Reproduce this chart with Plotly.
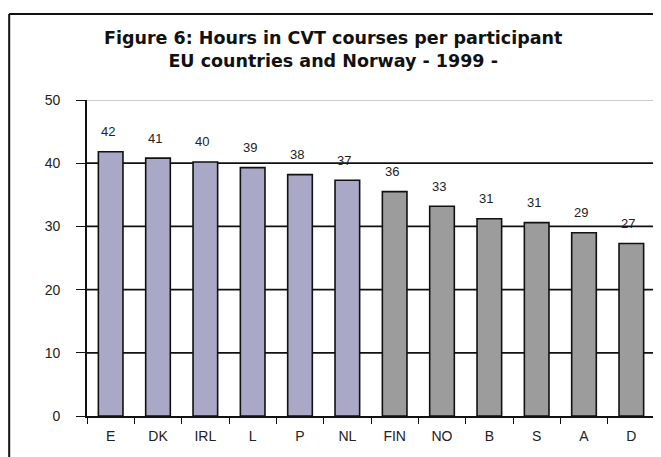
import plotly.graph_objects as go

# data
countries = ["E", "DK", "IRL", "L", "P", "NL", "FIN", "NO", "B", "S", "A", "D"]
hours = [41.8, 40.8, 40.2, 39.3, 38.2, 37.3, 35.5, 33.2, 31.2, 30.6, 29.0, 27.3]
labels = ["42", "41", "40", "39", "38", "37", "36", "33", "31", "31", "29", "27"]
bar_colors = ["#a9a8c6"] * 6 + ["#9c9c9c"] * 6
y_ticks = [0, 10, 20, 30, 40, 50]

title_1 = "Figure 6: Hours in CVT courses per participant"
title_2 = "EU countries and Norway - 1999 -"

fig = go.Figure()

fig.add_trace(go.Bar(
    x=countries, y=hours,
    marker=dict(color=bar_colors, line=dict(color="#111111", width=1.6)),
    width=0.52,
    hoverinfo="skip",
))

# value labels above the bars
for c, h, t in zip(countries, hours, labels):
    fig.add_annotation(x=c, y=h, text=t, showarrow=False, yshift=20, xshift=-3,
                       font=dict(family="Liberation Sans, Arial", size=13, color="#222222"))

# title, two lines in one text
fig.add_annotation(text=title_1 + "<br>" + title_2, xref="paper", yref="paper",
                   x=0.433, y=1.16, showarrow=False, xanchor="center", yanchor="middle",
                   align="center",
                   font=dict(family="DejaVu Sans", size=17.5, color="#111111", weight="bold"))

# black horizontal grid lines (except the top one, which is a thin grey border)
shapes = []
for v in y_ticks[1:-1]:
    shapes.append(dict(type="line", xref="paper", yref="y", x0=0, x1=1, y0=v, y1=v,
                       line=dict(color="#111111", width=1.8), layer="below"))
shapes.append(dict(type="line", xref="paper", yref="y", x0=0, x1=1, y0=50, y1=50,
                   line=dict(color="#9a9a9a", width=1), layer="below"))
shapes.append(dict(type="line", xref="paper", yref="y", x0=1, x1=1, y0=0, y1=50,
                   line=dict(color="#9a9a9a", width=1), layer="below"))
# outer frame of the figure
shapes.append(dict(type="line", xref="paper", yref="paper", x0=-0.137, x1=-0.137, y0=-0.3, y1=1.272,
                   line=dict(color="#111111", width=2)))
shapes.append(dict(type="line", xref="paper", yref="paper", x0=-0.137, x1=1.2, y0=1.272, y1=1.272,
                   line=dict(color="#111111", width=2)))

# page body adds 8px, so the figure is a bit smaller than the window
fig.update_layout(
    width=653, height=449,
    margin=dict(l=79, r=6, t=92, b=41),
    paper_bgcolor="white", plot_bgcolor="white",
    showlegend=False,
    shapes=shapes,
    font=dict(family="Liberation Sans, Arial", size=14, color="#222222"),
)

fig.update_xaxes(
    type="category", showgrid=False,
    showline=True, linecolor="#111111", linewidth=1.6,
    ticks="outside", tickson="boundaries", ticklen=6, tickcolor="#111111", tickwidth=1.4,
    tickfont=dict(size=14), ticklabelstandoff=6,
)
fig.update_yaxes(
    range=[0, 50], tickvals=y_ticks, showgrid=False, zeroline=False,
    showline=True, linecolor="#111111", linewidth=1.6,
    ticks="outside", ticklen=9, tickcolor="#111111", tickwidth=1.4,
    tickfont=dict(size=14), ticklabelstandoff=13,
)

fig.write_html("out.html")
